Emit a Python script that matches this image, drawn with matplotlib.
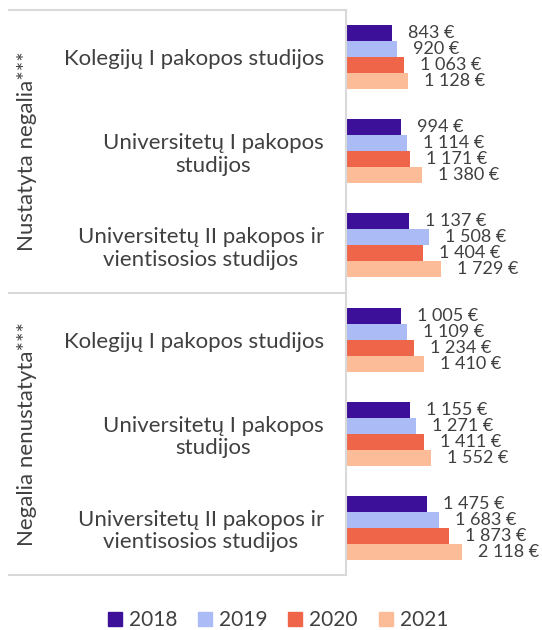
import matplotlib
matplotlib.use("Agg")
import matplotlib.pyplot as plt
from matplotlib.lines import Line2D
from matplotlib.patches import Patch
import numpy as np

plt.rcParams["font.family"] = ["Lato", "DejaVu Sans"]

groups = ["Nustatyta negalia***", "Negalia nenustatyta***"]
categories = [
    "Kolegijų I pakopos studijos",
    "Universitetų I pakopos\nstudijos",
    "Universitetų II pakopos ir\nvientisosios studijos",
] * 2
years = ["2018", "2019", "2020", "2021"]
v2018 = [843, 994, 1137, 1005, 1155, 1475]
v2019 = [920, 1114, 1508, 1109, 1271, 1683]
v2020 = [1063, 1171, 1404, 1234, 1411, 1873]
v2021 = [1128, 1380, 1729, 1410, 1552, 2118]
series = [v2018, v2019, v2020, v2021]
colors = ["#3d1099", "#aabbf5", "#ef654a", "#fdbc98"]

TEXT = "#404040"
GRID = "#d9d9d9"
W, H = 542, 630

fig = plt.figure(figsize=(W / 100, H / 100), dpi=100)
ax = fig.add_axes([346 / W, 55 / H, 196 / W, 565 / H])

y = np.arange(len(categories))
h = 0.17
for i, (vals, col) in enumerate(zip(series, colors)):
    pos = y + (i - 1.5) * h
    ax.barh(pos, vals, height=h, color=col, label=years[i])
    for p, v in zip(pos, vals):
        ax.annotate(f"{v:,}".replace(",", " ") + " €", (v, p),
                    xytext=(16, 0), textcoords="offset pixels",
                    ha="left", va="center", fontsize=13, color=TEXT)

ax.set_xlim(0, 196 / 0.055)
ax.set_ylim(5.5, -0.5)
ax.set_xticks([])
ax.set_yticks(y, categories)
ax.tick_params(axis="y", length=0, pad=16, labelsize=16, labelcolor=TEXT)
for t in ax.get_yticklabels():
    t.set_multialignment("center")
    t.set_linespacing(1.15)
for s in ("top", "right", "bottom"):
    ax.spines[s].set_visible(False)
ax.spines["left"].set_color(GRID)
ax.spines["left"].set_linewidth(1.5)

# table rules separating the two groups
for yy in (1.0, 0.5, 0.0):
    ax.add_line(Line2D([(9 - 346) / 196, 0], [yy, yy], transform=ax.transAxes,
                       color=GRID, lw=1.5, clip_on=False))

for k, g in enumerate(groups):
    fig.text(27 / W, 1 - (151 + 283 * k) / H, g, rotation=90,
             ha="center", va="center", fontsize=16, color=TEXT)

handles = [Patch(color=c) for c in colors]
fig.legend(handles, years, loc="center", bbox_to_anchor=(278 / W, 1 - 620 / H),
           ncol=4, frameon=False, fontsize=15, labelcolor=TEXT,
           handlelength=0.67, handleheight=0.67, handletextpad=0.34,
           columnspacing=1.0)

fig.savefig("out.png", dpi=100)
